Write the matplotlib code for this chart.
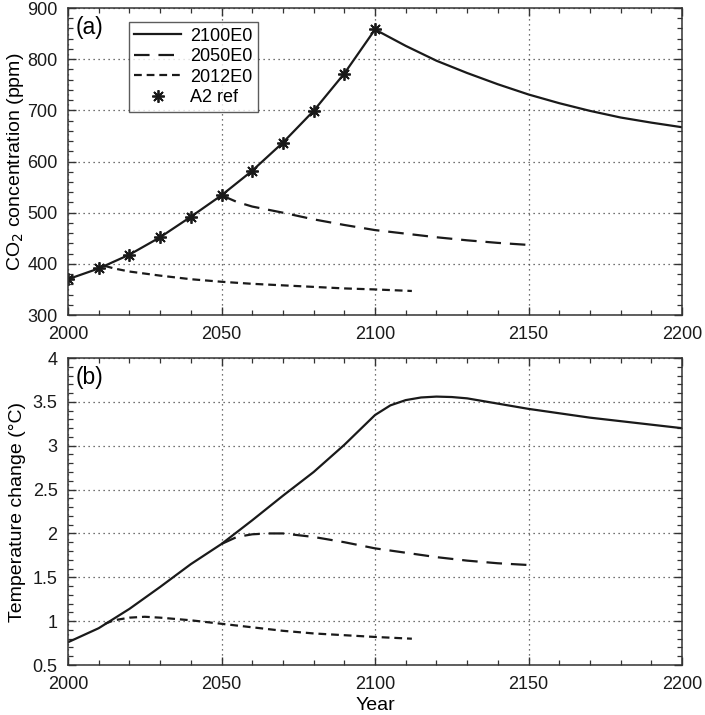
import matplotlib
matplotlib.use("Agg")
import matplotlib.pyplot as plt
from matplotlib.ticker import MultipleLocator

plt.rcParams['font.family'] = ['Liberation Sans', 'DejaVu Sans']

# ---- Data ----
years_a2 = [2000, 2010, 2020, 2030, 2040, 2050, 2060, 2070, 2080, 2090, 2100]
co2_a2 = [370, 391, 418, 452, 492, 534, 582, 637, 699, 772, 858]

years_2100_post = [2110, 2120, 2130, 2140, 2150, 2160, 2170, 2180, 2190, 2200]
co2_2100_post = [826, 797, 773, 751, 731, 714, 699, 686, 676, 667]

years_2050 = [2050, 2055, 2060, 2070, 2080, 2090, 2100, 2110, 2120, 2130, 2140, 2150]
co2_2050 = [534, 521, 512, 500, 487, 476, 466, 459, 452, 446, 441, 437]

years_2012 = [2012, 2015, 2020, 2030, 2040, 2050, 2060, 2070, 2080, 2090, 2100, 2112]
co2_2012 = [396, 391, 385, 377, 370, 365, 361, 358, 355, 352, 350, 347]

years_t2100 = [2000, 2010, 2020, 2030, 2040, 2050, 2060, 2070, 2080, 2090, 2095, 2100,
               2105, 2110, 2115, 2120, 2125, 2130, 2140, 2150, 2160, 2170, 2180, 2190, 2200]
temp_2100 = [0.76, 0.92, 1.14, 1.39, 1.65, 1.88, 2.15, 2.43, 2.70, 3.01, 3.18, 3.35,
             3.46, 3.52, 3.55, 3.56, 3.555, 3.54, 3.48, 3.42, 3.37, 3.32, 3.28, 3.24, 3.20]

years_t2050 = [2050, 2055, 2060, 2065, 2070, 2080, 2090, 2100, 2110, 2120, 2130, 2140, 2150]
temp_2050 = [1.88, 1.96, 1.99, 2.00, 2.00, 1.96, 1.90, 1.83, 1.78, 1.73, 1.69, 1.66, 1.64]

years_t2012 = [2012, 2015, 2020, 2025, 2030, 2040, 2050, 2060, 2070, 2080, 2090, 2100, 2112]
temp_2012 = [0.97, 1.01, 1.04, 1.05, 1.04, 1.01, 0.97, 0.93, 0.89, 0.86, 0.84, 0.82, 0.80]

labels = ['2100E0', '2050E0', '2012E0', 'A2 ref']

fig = plt.figure(figsize=(7.05, 7.15), dpi=100)
ax1 = fig.add_axes([0.0965, 0.5594, 0.8709, 0.4294])
ax2 = fig.add_axes([0.0965, 0.0699, 0.8709, 0.4294])

lw = 1.6
fs = 13
col = '#1a1a1a'

# Panel (a)
l1, = ax1.plot(years_a2 + years_2100_post, co2_a2 + co2_2100_post, color=col, lw=lw, label=labels[0])
l2, = ax1.plot(years_2050, co2_2050, color=col, lw=lw, dashes=(7, 4), label=labels[1])
l3, = ax1.plot(years_2012, co2_2012, color=col, lw=lw, dashes=(3.5, 2.2), label=labels[2])
l4, = ax1.plot(years_a2, co2_a2, ls='none', marker=(8, 2, 0), ms=9, mew=1.3, color=col, label=labels[3])

# Panel (b)
ax2.plot(years_t2100, temp_2100, color=col, lw=lw)
ax2.plot(years_t2050, temp_2050, color=col, lw=lw, dashes=(7, 4))
ax2.plot(years_t2012, temp_2012, color=col, lw=lw, dashes=(3.5, 2.2))

ax1.set_ylim(300, 900)
ax1.yaxis.set_major_locator(MultipleLocator(100))
ax1.yaxis.set_minor_locator(MultipleLocator(20))
ax2.set_ylim(0.5, 4)
ax2.set_yticks([0.5, 1, 1.5, 2, 2.5, 3, 3.5, 4])
ax2.set_yticklabels(['0.5', '1', '1.5', '2', '2.5', '3', '3.5', '4'])
ax2.yaxis.set_minor_locator(MultipleLocator(0.1))

for ax in (ax1, ax2):
    ax.set_xlim(2000, 2200)
    ax.xaxis.set_major_locator(MultipleLocator(50))
    ax.xaxis.set_minor_locator(MultipleLocator(10))
    ax.tick_params(which='both', direction='in', top=True, right=True, labelsize=fs,
                   colors='#333333', labelcolor='#1a1a1a')
    ax.tick_params(which='major', length=6, width=1)
    ax.tick_params(which='minor', length=3.5, width=0.9)
    ax.tick_params(axis='x', which='major', pad=8)
    ax.tick_params(axis='y', which='major', pad=7.5)
    ax.grid(True, which='major', ls=(0, (1, 3)), color='#444444', lw=0.9)
    for s in ax.spines.values():
        s.set_color('#333333')
        s.set_linewidth(1.1)

ax1.set_ylabel('CO$_2$ concentration (ppm)', fontsize=14)
ax2.set_ylabel('Temperature change (°C)', fontsize=14)
ax1.yaxis.set_label_coords(-0.069, 0.5)
ax2.yaxis.set_label_coords(-0.069, 0.5)
ax2.set_xlabel('Year', fontsize=14)
ax2.xaxis.set_label_coords(0.5, -0.103)

ax1.text(0.012, 0.975, '(a)', transform=ax1.transAxes, fontsize=16.5, va='top', ha='left')
ax2.text(0.012, 0.975, '(b)', transform=ax2.transAxes, fontsize=16.5, va='top', ha='left')

leg = ax1.legend(handles=[l1, l2, l3, l4], loc='upper left', bbox_to_anchor=(0.0993, 0.954),
                 fontsize=fs, frameon=True, fancybox=False, edgecolor='#333333',
                 handlelength=2.6, borderpad=0.3, labelspacing=0.2, handletextpad=0.5,
                 borderaxespad=0)
leg.get_frame().set_linewidth(1.0)

fig.savefig('out.png', dpi=100)
